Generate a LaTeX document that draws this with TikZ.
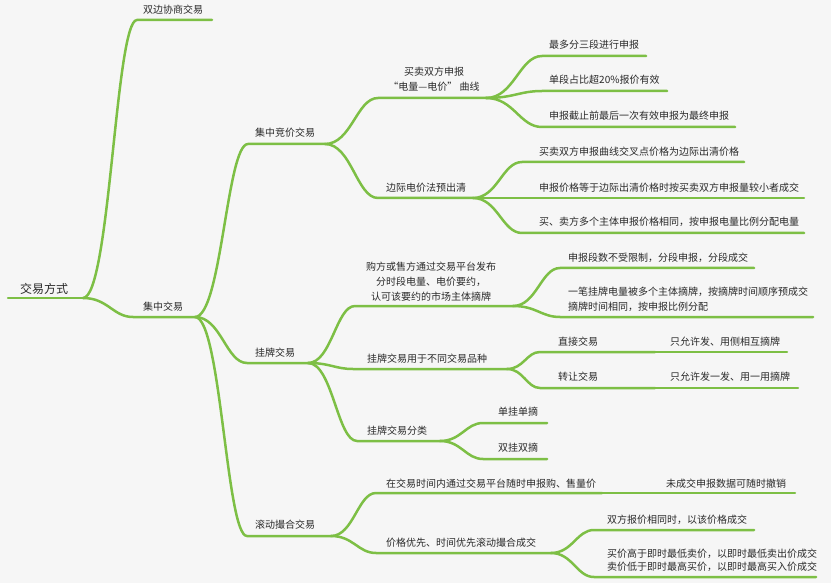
\documentclass[tikz,border=0pt]{standalone}
\usepackage{fontspec}
\setmainfont{Noto Sans CJK SC}
\usetikzlibrary{calc}
\definecolor{bg}{HTML}{F6F6F6}
\definecolor{br}{HTML}{7DBF45}
\definecolor{tx}{HTML}{2A2A2A}
\tikzset{
  curv/.style={to path={.. controls ($(\tikztostart)!0.5!(\tikztostart-|\tikztotarget)$) and ($(\tikztotarget)!0.4!(\tikztotarget-|\tikztostart)$) .. (\tikztotarget)}},
  brline/.style={draw=br, line width=2.5pt, line cap=round},
  txt/.style={anchor=west, inner sep=0pt, text=tx, font=\fontsize{10}{15}\selectfont},
  ctxt/.style={anchor=center, inner sep=0pt, text=tx, align=center, font=\fontsize{10}{15}\selectfont},
  ltxt/.style={anchor=west, inner sep=0pt, text=tx, align=left, font=\fontsize{10}{13}\selectfont},
}
\begin{document}
\begin{tikzpicture}[x=1pt,y=-1pt]
\path[use as bounding box, fill=bg] (0,0) rectangle (831,583);

% root
\coordinate (Rs) at (8,298); \coordinate (Re) at (83,298);
\node[txt, font=\fontsize{12}{15}\selectfont] (R) at (20,289) {交易方式};
\draw[brline] (Rs) -- (Re);

% level 1
\coordinate (As) at (137,20); \coordinate (Ae) at (212,20);
\node[txt] (A) at (143,10) {双边协商交易};
\draw[brline] (Re) to[curv] (As) -- (Ae);

\coordinate (Bs) at (133,317); \coordinate (Be) at (195,317);
\node[txt] (B) at (143,307) {集中交易};
\draw[brline] (Re) to[curv] (Bs) -- (Be);

% level 2
\coordinate (Cs) at (248,144); \coordinate (Ce) at (325,144);
\node[txt] (C) at (255,133) {集中竞价交易};
\draw[brline] (Be) to[curv] (Cs) -- (Ce);

\coordinate (Ds) at (247,363); \coordinate (De) at (308,363);
\node[txt] (D) at (255,353) {挂牌交易};
\draw[brline] (Be) to[curv] (Ds) -- (De);

\coordinate (Es) at (247,536); \coordinate (Ee) at (331,536);
\node[txt] (E) at (255,525) {滚动撮合交易};
\draw[brline] (Be) to[curv] (Es) -- (Ee);

% under 集中竞价交易
\coordinate (C1s) at (378,98); \coordinate (C1e) at (486,98);
\node[ctxt] (C1) at (434,79.5) {买卖双方申报\\“电量—电价” 曲线};
\draw[brline] (Ce) to[curv] (C1s) -- (C1e);

\coordinate (C2s) at (378,198); \coordinate (C2e) at (473,198);
\node[txt] (C2) at (386,188) {边际电价法预出清};
\draw[brline] (Ce) to[curv] (C2s) -- (C2e);

\coordinate (C11s) at (542,56); \coordinate (C11e) at (646,56);
\node[txt] (C11) at (549,45) {最多分三段进行申报};
\draw[brline] (C1e) to[curv] (C11s) -- (C11e);

\coordinate (C12s) at (542,91); \coordinate (C12e) at (667,91);
\node[txt] (C12) at (549,80) {单段占比超20\%报价有效};
\draw[brline] (C1e) to[curv] (C12s) -- (C12e);

\coordinate (C13s) at (542,127); \coordinate (C13e) at (735,127);
\node[txt] (C13) at (549,116) {申报截止前最后一次有效申报为最终申报};
\draw[brline] (C1e) to[curv] (C13s) -- (C13e);

\coordinate (C21s) at (522,162); \coordinate (C21e) at (744,162);
\node[txt] (C21) at (539,152) {买卖双方申报曲线交叉点价格为边际出清价格};
\draw[brline] (C2e) to[curv] (C21s) -- (C21e);

\coordinate (C22s) at (522,198); \coordinate (C22e) at (804,198);
\node[txt] (C22) at (539,188) {申报价格等于边际出清价格时按买卖双方申报量较小者成交};
\draw[brline] (C2e) to[curv] (C22s) -- (C22e);

\coordinate (C23s) at (522,233); \coordinate (C23e) at (804,233);
\node[txt] (C23) at (539,222) {买、卖方多个主体申报价格相同，按申报电量比例分配电量};
\draw[brline] (C2e) to[curv] (C23s) -- (C23e);

% under 挂牌交易
\coordinate (D1s) at (355,306); \coordinate (D1e) at (513,306);
\node[ctxt] (D1) at (431,282) {购方或售方通过交易平台发布\\分时段电量、电价要约，\\认可该要约的市场主体摘牌};
\draw[brline] (De) to[curv] (D1s) -- (D1e);

\coordinate (D2s) at (353,369); \coordinate (D2e) at (507,369);
\node[txt] (D2) at (367,359) {挂牌交易用于不同交易品种};
\draw[brline] (De) to[curv] (D2s) -- (D2e);

\coordinate (D3s) at (357,441); \coordinate (D3e) at (440,441);
\node[txt] (D3) at (367,431) {挂牌交易分类};
\draw[brline] (De) to[curv] (D3s) -- (D3e);

\coordinate (D11s) at (560,268); \coordinate (D11e) at (754,268);
\node[txt] (D11) at (568,258) {申报段数不受限制，分段申报，分段成交};
\draw[brline] (D1e) to[curv] (D11s) -- (D11e);

\coordinate (D12s) at (560,317); \coordinate (D12e) at (813,317);
\node[ltxt, font=\fontsize{10}{15}\selectfont] (D12) at (568,299.5) {一笔挂牌电量被多个主体摘牌，按摘牌时间顺序预成交\\摘牌时间相同，按申报比例分配};
\draw[brline] (D1e) to[curv] (D12s) -- (D12e);

\coordinate (D21s) at (540,352); \coordinate (D21e) at (655,352);
\node[txt] (D21) at (558,342) {直接交易};
\draw[brline] (D2e) to[curv] (D21s) -- (D21e);
\coordinate (D211e) at (787,352);
\node[txt] (D211) at (670,342) {只允许发、用侧相互摘牌};
\draw[brline] (D21e) -- (D211e);

\coordinate (D22s) at (540,388); \coordinate (D22e) at (655,388);
\node[txt] (D22) at (558,377) {转让交易};
\draw[brline] (D2e) to[curv] (D22s) -- (D22e);
\coordinate (D221e) at (798,388);
\node[txt] (D221) at (670,377) {只允许发一发、用一用摘牌};
\draw[brline] (D22e) -- (D221e);

\coordinate (D31s) at (483,423); \coordinate (D31e) at (547,423);
\node[txt] (D31) at (498,412) {单挂单摘};
\draw[brline] (D3e) to[curv] (D31s) -- (D31e);

\coordinate (D32s) at (483,459); \coordinate (D32e) at (547,459);
\node[txt] (D32) at (498,448) {双挂双摘};
\draw[brline] (D3e) to[curv] (D32s) -- (D32e);

% under 滚动撮合交易
\coordinate (E1s) at (376,493); \coordinate (E1e) at (602,493);
\node[txt] (E1) at (386,484) {在交易时间内通过交易平台随时申报购、售量价};
\draw[brline] (Ee) to[curv] (E1s) -- (E1e);
\coordinate (E11e) at (795,493);
\node[txt] (E11) at (666,484) {未成交申报数据可随时撤销};
\draw[brline] (E1e) -- (E11e);

\coordinate (E2s) at (376,553); \coordinate (E2e) at (551,553);
\node[txt] (E2) at (386,543) {价格优先、时间优先滚动撮合成交};
\draw[brline] (Ee) to[curv] (E2s) -- (E2e);

\coordinate (E21s) at (594,530); \coordinate (E21e) at (754,530);
\node[txt] (E21) at (607,520) {双方报价相同时，以该价格成交};
\draw[brline] (E2e) to[curv] (E21s) -- (E21e);

\coordinate (E22s) at (594,577); \coordinate (E22e) at (816,577);
\node[ltxt] (E22) at (607,560.5) {买价高于即时最低卖价，以即时最低卖出价成交\\卖价低于即时最高买价，以即时最高买入价成交};
\draw[brline] (E2e) to[curv] (E22s) -- (E22e);
\end{tikzpicture}
\end{document}
